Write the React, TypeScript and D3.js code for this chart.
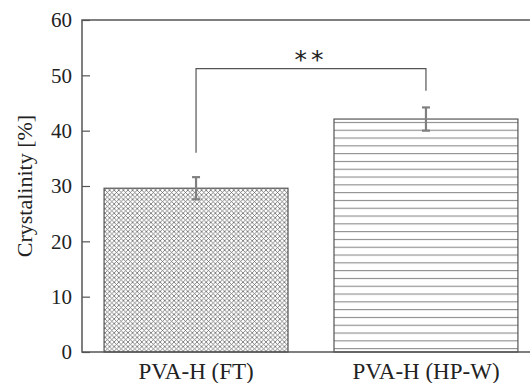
import { useEffect, useRef } from "react";
import * as d3 from "d3";

const categories = ["PVA-H (FT)", "PVA-H (HP-W)"];
const values = [29.6, 42.1];
const errors = [2.0, 2.1];
const yTicks = [0, 10, 20, 30, 40, 50, 60];
// significance bracket: top level, and the lower ends of each leg
const bracketTop = 51.2;
const bracketLegs = [36, 47.2];
const sigLabel = "**";

const W = 530;
const H = 383;
const M = { top: 20, right: -10, bottom: 31, left: 82 };
const IW = W - M.left - M.right;
const IH = H - M.top - M.bottom;

const SERIF = "'Liberation Serif', 'Times New Roman', serif";

export default function App() {
  const svgRef = useRef<SVGSVGElement | null>(null);

  useEffect(() => {
    if (!svgRef.current) return;
    const svg = d3.select(svgRef.current);
    svg.selectAll("*").remove();

    const x = d3.scaleBand<string>().domain(categories).range([0, IW])
      .paddingInner(0.2).paddingOuter(0.096);
    const y = d3.scaleLinear().domain([0, 60]).range([IH, 0]);

    // ── Patterns ──────────────────────────────────────────────────────────
    const defs = svg.append("defs");
    const cross = defs.append("pattern").attr("id", "pat-cross")
      .attr("patternUnits", "userSpaceOnUse").attr("width", 4.6).attr("height", 4.6);
    cross.append("path").attr("d", "M0,0 L4.6,4.6 M4.6,0 L0,4.6 M-1,3.6 L1,5.6 M3.6,-1 L5.6,1 M-1,1 L1,-1 M3.6,5.6 L5.6,3.6")
      .attr("stroke", "#6a6a6a").attr("stroke-width", 0.8);
    const horiz = defs.append("pattern").attr("id", "pat-horiz")
      .attr("patternUnits", "userSpaceOnUse").attr("width", 10).attr("height", 7.8)
      .attr("y", 0.5);
    horiz.append("line").attr("x1", 0).attr("x2", 10).attr("y1", 0.5).attr("y2", 0.5)
      .attr("stroke", "#8a8a8a").attr("stroke-width", 1.2);

    const g = svg.append("g").attr("transform", `translate(${M.left},${M.top})`);

    // ── Bars ──────────────────────────────────────────────────────────────
    const fills = ["url(#pat-cross)", "url(#pat-horiz)"];
    g.selectAll("rect.bar")
      .data(categories)
      .join("rect")
      .attr("class", "bar")
      .attr("x", d => x(d)!)
      .attr("y", (_, i) => y(values[i]))
      .attr("width", x.bandwidth())
      .attr("height", (_, i) => IH - y(values[i]))
      .attr("fill", (_, i) => fills[i])
      .attr("stroke", "#555")
      .attr("stroke-width", 1.2);

    // ── Error bars ────────────────────────────────────────────────────────
    categories.forEach((c, i) => {
      const cx = x(c)! + x.bandwidth() / 2;
      const eg = g.append("g").attr("stroke", "#808080").attr("stroke-width", 2.2);
      eg.append("line").attr("x1", cx).attr("x2", cx)
        .attr("y1", y(values[i] - errors[i])).attr("y2", y(values[i] + errors[i]));
      for (const v of [values[i] - errors[i], values[i] + errors[i]]) {
        eg.append("line").attr("x1", cx - 4).attr("x2", cx + 4)
          .attr("y1", y(v)).attr("y2", y(v));
      }
    });

    // ── Significance bracket ──────────────────────────────────────────────
    const bx = categories.map(c => x(c)! + x.bandwidth() / 2);
    g.append("path")
      .attr("d", `M${bx[0]},${y(bracketLegs[0])} V${y(bracketTop)} H${bx[1]} V${y(bracketLegs[1])}`)
      .attr("fill", "none").attr("stroke", "#555").attr("stroke-width", 1.2);
    g.append("text")
      .attr("x", (bx[0] + bx[1]) / 2)
      .attr("y", y(bracketTop) - 1)
      .attr("text-anchor", "middle")
      .attr("font-family", "'DejaVu Sans', sans-serif")
      .attr("font-size", 25)
      .attr("letter-spacing", 4)
      .attr("fill", "#222")
      .text(sigLabel);

    // ── Frame & axes ──────────────────────────────────────────────────────
    g.append("path")
      .attr("d", `M${IW},0 H0 V${IH} H${IW}`)
      .attr("fill", "none").attr("stroke", "#555").attr("stroke-width", 1.5);

    const ya = g.append("g")
      .call(d3.axisLeft(y).tickValues(yTicks).tickSize(-8).tickPadding(10).tickSizeOuter(0));
    ya.select(".domain").remove();
    ya.selectAll("line").attr("stroke", "#555").attr("stroke-width", 1.2);
    ya.selectAll("text")
      .attr("fill", "#222").attr("font-size", 21).attr("font-family", SERIF);

    const xa = g.append("g").attr("transform", `translate(0,${IH})`)
      .call(d3.axisBottom(x).tickSize(0).tickPadding(11));
    xa.select(".domain").remove();
    xa.selectAll("text")
      .attr("fill", "#222").attr("font-size", 23).attr("font-family", SERIF);

    svg.append("text")
      .attr("transform", `translate(32,${M.top + IH / 2}) rotate(-90)`)
      .attr("text-anchor", "middle")
      .attr("font-family", SERIF)
      .attr("font-size", 22)
      .attr("fill", "#222")
      .text("Crystalinity [%]");
  }, []);

  return (
    <svg
      ref={svgRef}
      width={W}
      height={H}
      style={{ position: "absolute", left: 0, top: 0, background: "#fff" }}
    />
  );
}
